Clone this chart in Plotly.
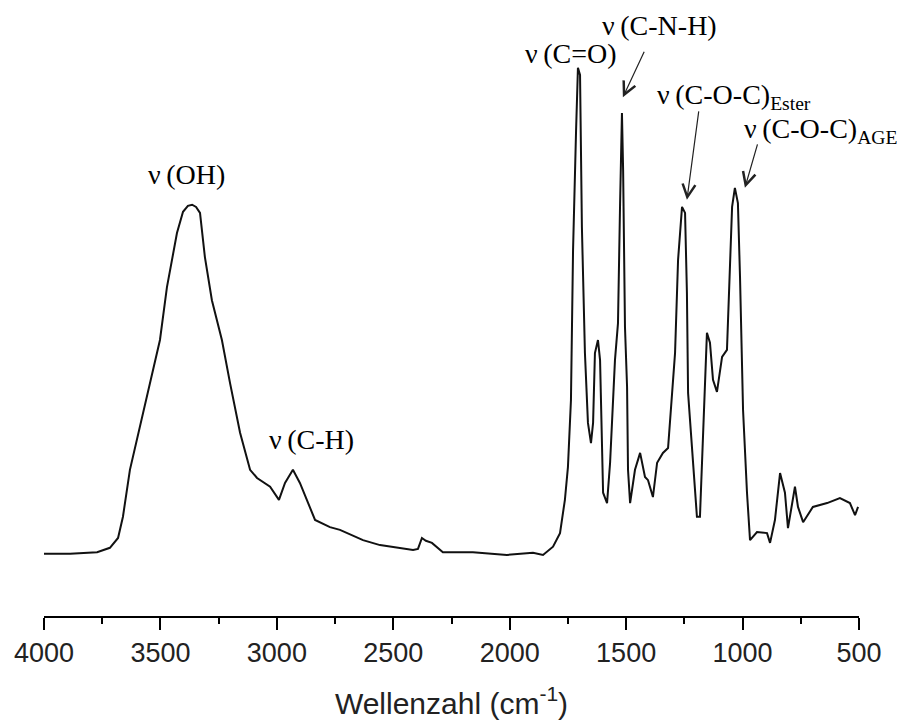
import plotly.graph_objects as go

# IR spectrum: wavenumber (cm^-1) and relative absorbance (a.u.)
wavenumber = [
    4000, 3888, 3772, 3717, 3682, 3661, 3631, 3588, 3558, 3523, 3502, 3472,
    3429, 3403, 3382, 3364, 3347, 3330, 3309, 3279, 3236, 3201, 3158, 3115,
    3085, 3029, 2991, 2965, 2931, 2901, 2871, 2836, 2772, 2729, 2630, 2557,
    2415, 2394, 2377, 2360, 2334, 2287, 2158, 2012, 1900, 1857, 1814, 1784,
    1763, 1750, 1737, 1728, 1715, 1707, 1698, 1690, 1677, 1664, 1651, 1642,
    1634, 1621, 1612, 1604, 1599, 1582, 1569, 1548, 1535, 1526, 1518, 1513,
    1505, 1496, 1492, 1483, 1462, 1440, 1419, 1406, 1385, 1367, 1342, 1320,
    1303, 1290, 1277, 1260, 1247, 1239, 1234, 1213, 1196, 1183, 1174, 1161,
    1153, 1140, 1127, 1110, 1088, 1067, 1054, 1045, 1033, 1020, 1011, 998,
    981, 968, 938, 895, 882, 861, 839, 818, 805, 788, 775, 762,
    740, 698, 637, 582, 539, 517, 504,
]
absorbance = [
    11.4, 11.4, 11.7, 12.5, 14.3, 18.2, 26.8, 34.7, 40.2, 46.9, 50.6, 60.3,
    70.2, 74.1, 75.2, 75.4, 75.0, 73.9, 65.8, 57.9, 50.6, 42.7, 33.6, 26.8,
    25.3, 23.7, 21.3, 24.4, 26.8, 24.4, 21.3, 17.6, 16.3, 15.8, 13.9, 13.0,
    12.1, 12.3, 14.3, 13.8, 13.4, 11.7, 11.7, 11.2, 11.6, 11.2, 12.7, 15.2,
    21.3, 27.3, 39.6, 67.1, 89.1, 100.5, 99.2, 71.3, 48.2, 35.4, 31.7, 35.4,
    48.2, 50.6, 46.9, 31.7, 22.6, 20.7, 28.1, 46.9, 53.7, 75.7, 92.2, 81.8,
    53.0, 42.0, 26.8, 20.7, 26.8, 29.9, 25.5, 24.9, 21.8, 28.1, 29.9, 30.8,
    40.9, 48.2, 65.3, 75.0, 73.9, 59.2, 40.9, 28.6, 18.2, 18.2, 28.6, 40.9,
    51.9, 50.1, 43.3, 41.1, 47.5, 48.8, 64.0, 75.0, 78.5, 75.7, 62.2, 37.8,
    22.6, 13.9, 15.4, 15.2, 13.4, 17.6, 26.2, 22.6, 16.1, 20.0, 23.7, 20.0,
    17.2, 20.0, 20.7, 21.6, 20.7, 18.5, 20.0,
]

# band assignments: label, label position (cm^-1, a.u.)
band_labels = ["ν\u2009(OH)", "ν\u2009(C-H)", "ν\u2009(C=O)", "ν\u2009(C-N-H)"]
band_label_x = [3390, 2850, 1737, 1355]
band_label_y = [81.0, 32.3, 103.2, 108.3]

# labels with subscripts, left-anchored
sub_labels = ["ν\u2009(C-O-C)<sub>Ester</sub>", "ν\u2009(C-O-C)<sub>AGE</sub>"]
sub_label_x = [1378, 1004]
sub_label_y = [95.3, 89.1]

# arrows pointing at peaks: tip position and tail offset (px)
arrow_x = [1514, 1239, 990]
arrow_y = [95.1, 76.3, 78.5]
arrow_dx = [22, 12, 13]
arrow_dy = [-47, -90, -45]

tick_values = [4000, 3500, 3000, 2500, 2000, 1500, 1000, 500]

serif = "Liberation Serif, Times New Roman, serif"
sans = "Liberation Sans, Arial, sans-serif"

fig = go.Figure()
fig.add_trace(go.Scatter(
    x=wavenumber, y=absorbance, mode="lines",
    line=dict(color="#111111", width=2),
    showlegend=False, hoverinfo="skip",
))

for t, x, y in zip(band_labels, band_label_x, band_label_y):
    fig.add_annotation(x=x, y=y, text=t, showarrow=False,
                       font=dict(family=serif, size=28, color="black"),
                       xanchor="center", yanchor="middle")

for t, x, y in zip(sub_labels, sub_label_x, sub_label_y):
    fig.add_annotation(x=x, y=y, text=t, showarrow=False,
                       font=dict(family=serif, size=28, color="black"),
                       xanchor="left", yanchor="middle")

for x, y, dx, dy in zip(arrow_x, arrow_y, arrow_dx, arrow_dy):
    fig.add_annotation(x=x, y=y, text="", showarrow=True,
                       ax=dx, ay=dy, arrowhead=5, arrowsize=2.1,
                       arrowwidth=1.2, arrowcolor="#222222")

fig.update_xaxes(
    range=[4000, 500], showgrid=False, zeroline=False, automargin=False,
    showline=True, linecolor="black", linewidth=2,
    ticks="outside", ticklen=12, tickwidth=2, tickcolor="black",
    tickvals=tick_values, ticktext=[str(v) for v in tick_values],
    tickfont=dict(family=sans, size=27, color="#222222"),
    minor=dict(ticks="outside", ticklen=6, tickwidth=2, tickcolor="black",
               dtick=250, tick0=0),
    title=dict(text="Wellenzahl (cm<sup>-1</sup>)", standoff=26,
               font=dict(family=sans, size=30, color="#222222")),
)
fig.update_yaxes(range=[0, 110], visible=False)

fig.update_layout(
    width=897, height=720,
    margin=dict(l=44, r=38, t=16, b=104),
    paper_bgcolor="white", plot_bgcolor="white",
)

fig.write_html("out.html")
